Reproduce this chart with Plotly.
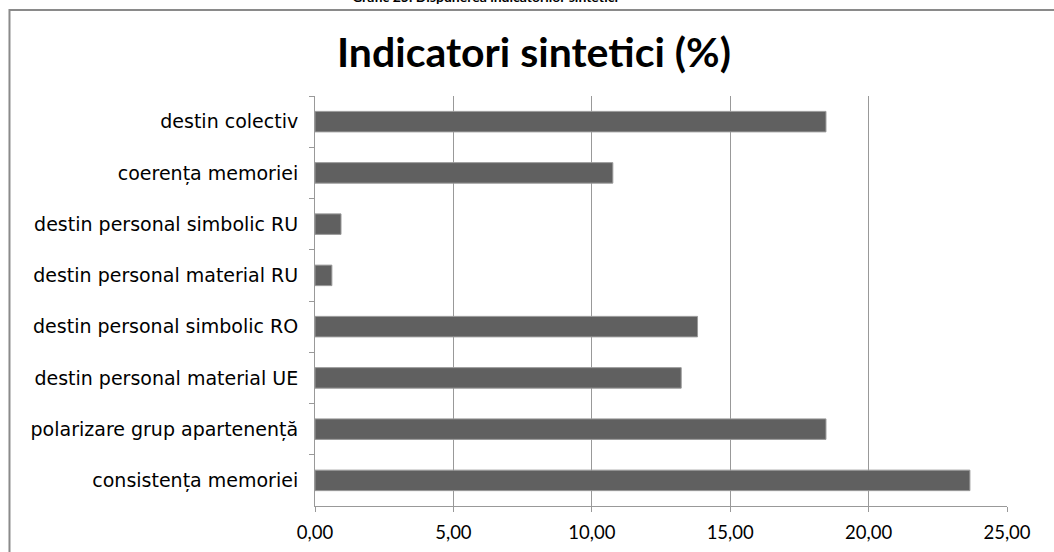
import plotly.graph_objects as go

# indicators, top to bottom as shown in the chart
categories = [
    "destin colectiv",
    "coerența memoriei",
    "destin personal simbolic RU",
    "destin personal material RU",
    "destin personal simbolic RO",
    "destin personal material UE",
    "polarizare grup apartenență",
    "consistența memoriei",
]
values = [18.46, 10.76, 0.94, 0.61, 13.82, 13.23, 18.46, 23.66]

x_ticks = [0, 5, 10, 15, 20, 25]

chart_title = "Indicatori sintetici (%)"
caption = "Grafic 25. Dispunerea indicatorilor sintetici"

fig = go.Figure(go.Bar(
    x=values,
    y=categories,
    orientation="h",
    width=0.4,
    marker=dict(color="#606060", line=dict(color="#9a9a9a", width=1)),
    showlegend=False,
))

fig.update_layout(
    width=1054, height=552,
    margin=dict(l=315, r=47, t=96, b=46),
    paper_bgcolor="white", plot_bgcolor="white",
    separators=", ",
    title=dict(text="<b>" + chart_title + "</b>", x=0.5066, xanchor="center",
               y=0.904, yanchor="middle",
               font=dict(family="Lato", size=41, color="black")),
)

fig.update_xaxes(
    range=[0, 25], tickvals=x_ticks, tickformat=".2f",
    showgrid=True, gridcolor="#999999", gridwidth=1,
    showline=True, linecolor="#999999", linewidth=1,
    ticks="outside", ticklen=5, tickcolor="#999999",
    ticklabelstandoff=5, automargin=False,
    tickfont=dict(family="Lato", size=18.5, color="black"),
    zeroline=False,
)
fig.update_yaxes(
    autorange="reversed",
    showline=True, linecolor="#999999", linewidth=1,
    ticks="outside", ticklen=5, tickcolor="#999999", tickson="boundaries",
    ticklabelstandoff=12, automargin=False,
    tickfont=dict(family="DejaVu Sans", size=19, color="black"),
    showgrid=False,
)

# outer chart frame (runs off the right and bottom of the page)
fig.add_shape(type="rect", xref="paper", yref="paper",
              x0=-0.4415, x1=1.1, y0=-0.2, y1=1.2098,
              line=dict(color="#8a8a8a", width=2), layer="below")

# caption above the frame, cut by the top edge like in the source
fig.add_annotation(text="<b>" + caption + "</b>", xref="paper", yref="paper",
                   x=0.2457, y=1.2415, xanchor="center", yanchor="middle",
                   showarrow=False, font=dict(family="Lato", size=14, color="black"))

fig.write_html("out.html", config={"displayModeBar": False},
               post_script="document.body.style.margin='0';")
